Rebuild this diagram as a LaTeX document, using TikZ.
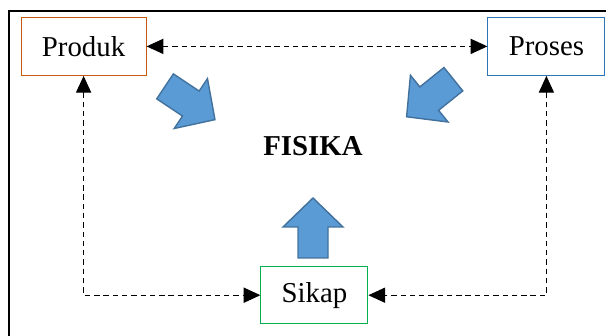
\documentclass[tikz,border=0pt]{standalone}
\usepackage{fontspec}
\setmainfont{Liberation Serif}
\usetikzlibrary{arrows.meta}

\definecolor{produkline}{HTML}{C55A11}
\definecolor{prosesline}{HTML}{2E75B6}
\definecolor{sikapline}{HTML}{00B050}
\definecolor{arrowfill}{HTML}{5B9BD5}
\definecolor{arrowline}{HTML}{41719C}

\tikzset{
  box/.style={draw, line width=0.7pt, minimum height=1.45cm, inner sep=0pt,
    font=\fontsize{20.5}{24}\selectfont},
  link/.style={line width=0.8pt, dash pattern=on 3.8pt off 2.8pt,
    {Triangle[length=4.2mm,width=3.8mm]}-{Triangle[length=4.2mm,width=3.8mm]}},
  fatarrow/.pic={
    \draw[fill=arrowfill, draw=arrowline, line width=1pt, line join=miter]
      (-0.75,-0.375) -- (0.025,-0.375) -- (0.025,-0.75) -- (0.75,0)
      -- (0.025,0.75) -- (0.025,0.375) -- (-0.75,0.375) -- cycle;
  }
}

\begin{document}
\begin{tikzpicture}
  \useasboundingbox (0,0) rectangle (15.15,8.4);
  \clip (0,0) rectangle (15.15,8.4);
  % outer frame, right and bottom sides fall outside
  \draw[line width=1.6pt] (0.217,-1) |- (16,8.12);

  \node[box, draw=produkline, minimum width=3.125cm] (produk) at (2.09,7.24) {Produk};
  \node[box, draw=prosesline, minimum width=2.925cm] (proses) at (13.66,7.24) {Proses};
  \node[box, draw=sikapline, minimum width=2.675cm, minimum height=1.425cm] (sikap) at (7.86,1.02) {Sikap};
  \node[font=\fontsize{20.5}{24}\selectfont\bfseries] (fisika) at (7.825,4.75) {FISIKA};

  \draw[link] (produk) -- (proses);
  \draw[link] (produk.south) |- (sikap.west);
  \draw[link] (proses.south) |- (sikap.east);

  % block arrows into the centre
  \pic[rotate=-33.7] at (4.75,5.825) {fatarrow};
  \pic[rotate=218.8] at (10.75,5.95) {fatarrow};
  \pic[rotate=90] at (7.825,2.7) {fatarrow};
\end{tikzpicture}
\end{document}
